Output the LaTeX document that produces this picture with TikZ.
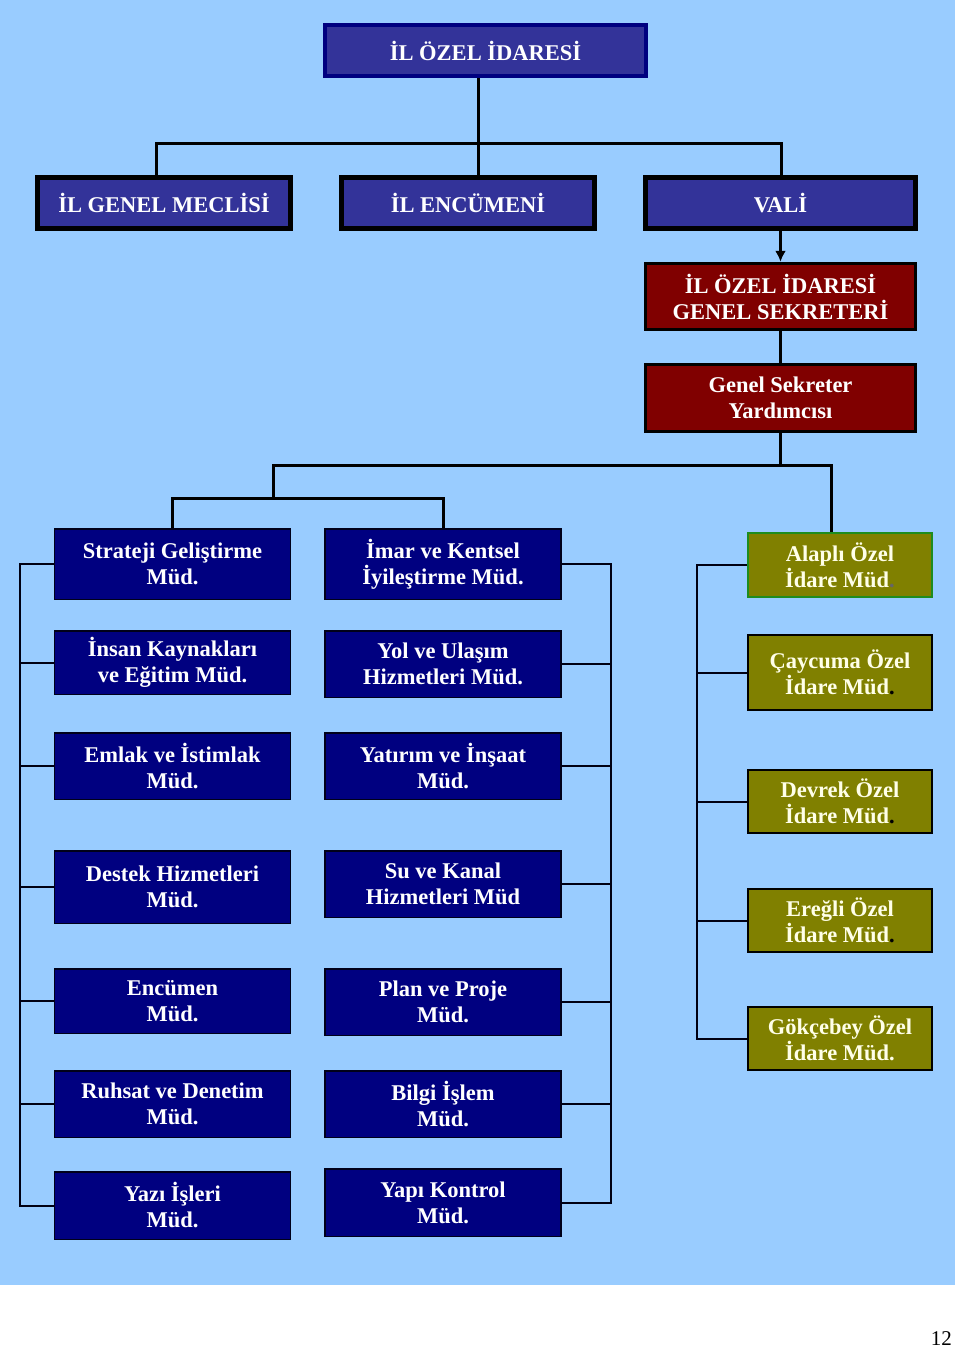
\documentclass[tikz,border=0pt]{standalone}
\usepackage{fontspec}
\setmainfont{Liberation Serif}
\usetikzlibrary{arrows.meta}

\definecolor{bgblue}{HTML}{99CCFF}
\definecolor{midblue}{HTML}{333399}
\definecolor{navyblue}{HTML}{000080}
\definecolor{darkred}{HTML}{800000}
\definecolor{olivebox}{HTML}{808000}
\definecolor{greenline}{HTML}{1E8C1E}
\definecolor{cream}{HTML}{FFFFE8}

\tikzset{
  box/.style={draw, rectangle, align=center, inner sep=0pt, text=white,
    font=\fontsize{22.5}{26}\selectfont\bfseries},
  topbox/.style={box, fill=midblue, draw=navyblue, line width=4pt,
    minimum width=321pt, minimum height=51pt},
  meclisbox/.style={box, fill=midblue, draw=black, line width=5pt, minimum height=51pt},
  redbox/.style={box, fill=darkred, draw=black, line width=3pt,
    minimum width=270pt, minimum height=66.5pt},
  mudbox/.style={box, fill=navyblue, draw=black!80!navyblue, line width=1.5pt,
    minimum width=236pt},
  ilcebox/.style={box, fill=olivebox, draw=black, line width=2pt, text=cream,
    minimum width=184pt},
  conn/.style={line width=3pt},
  bracket/.style={line width=2pt, draw=black!85!navyblue}
}

\begin{document}
\begin{tikzpicture}[x=1pt, y=-1pt]
  \useasboundingbox (0,0) rectangle (960,1353);
  \fill[bgblue] (0,0) rectangle (955,1285);

  % ust kademe
  \node[topbox] (ioi) at (485.5,50.5) {İL ÖZEL İDARESİ};
  \node[meclisbox, minimum width=253pt] (meclis) at (164,203) {İL GENEL MECLİSİ};
  \node[meclisbox, minimum width=253pt] (encumen) at (468,203) {İL ENCÜMENİ};
  \node[meclisbox, minimum width=270pt] (vali) at (780.5,203) {VALİ};
  \node[redbox] (gensek) at (780.5,296.5) {İL ÖZEL İDARESİ\\GENEL SEKRETERİ};
  \node[redbox] (gsyard) at (780.5,398) {Genel Sekreter\\Yardımcısı};

  % mudurlukler, sol sutun
  \node[mudbox, minimum height=70.5pt] (s1) at (172.5,564) {Strateji Geliştirme\\Müd.};
  \node[mudbox, minimum height=63.5pt] (s2) at (172.5,662.5) {İnsan Kaynakları\\ve Eğitim Müd.};
  \node[mudbox, minimum height=66.5pt] (s3) at (172.5,766) {Emlak ve İstimlak\\Müd.};
  \node[mudbox, minimum height=72.5pt] (s4) at (172.5,887) {Destek Hizmetleri\\Müd.};
  \node[mudbox, minimum height=64.5pt] (s5) at (172.5,1001) {Encümen\\Müd.};
  \node[mudbox, minimum height=66.5pt] (s6) at (172.5,1104) {Ruhsat ve Denetim\\Müd.};
  \node[mudbox, minimum height=67.5pt] (s7) at (172.5,1205.5) {Yazı İşleri\\Müd.};

  % orta sutun
  \node[mudbox, minimum height=70.5pt] (m1) at (443,564) {İmar ve Kentsel\\İyileştirme Müd.};
  \node[mudbox, minimum height=66.5pt] (m2) at (443,664) {Yol ve Ulaşım\\Hizmetleri Müd.};
  \node[mudbox, minimum height=66.5pt] (m3) at (443,766) {Yatırım ve İnşaat\\Müd.};
  \node[mudbox, minimum height=66.5pt] (m4) at (443,884) {Su ve Kanal\\Hizmetleri Müd};
  \node[mudbox, minimum height=66.5pt] (m5) at (443,1002) {Plan ve Proje\\Müd.};
  \node[mudbox, minimum height=66.5pt] (m6) at (443,1104) {Bilgi İşlem\\Müd.};
  \node[mudbox, minimum height=67.5pt] (m7) at (443,1202.5) {Yapı Kontrol\\Müd.};

  % ilceler
  \node[ilcebox, draw=greenline, minimum height=64pt] (o1) at (840,565) {Alaplı Özel\\İdare Müd\textcolor{black!60}{.}};
  \node[ilcebox, minimum height=75pt] (o2) at (840,672.5) {Çaycuma Özel\\İdare Müd\textcolor{black}{.}};
  \node[ilcebox, minimum height=63pt] (o3) at (840,801.5) {Devrek Özel\\İdare Müd\textcolor{black}{.}};
  \node[ilcebox, minimum height=63pt] (o4) at (840,920.5) {Ereğli Özel\\İdare Müd\textcolor{black}{.}};
  \node[ilcebox, minimum height=63pt] (o5) at (840,1038.5) {Gökçebey Özel\\İdare Müd.};

  \node[anchor=base east, inner sep=0pt, font=\fontsize{21}{21}\selectfont] (sayfa) at (952,1345) {12};

  % baglantilar
  \coordinate (t1) at (478,143);
  \coordinate (b1l) at (156,143);
  \coordinate (b1r) at (781,143);
  \draw[conn] (ioi.south -| t1) -- (encumen.north -| t1);
  \draw[conn] (b1l |- meclis.north) -- (b1l) -- (b1r) -- (b1r |- vali.north);
  \draw[line width=2.5pt, -{Latex[length=11pt,width=11pt]}] (vali.south) -- (gensek.north);
  \draw[conn] (gensek) -- (gsyard);

  \coordinate (b2l) at (273,465);
  \coordinate (b2r) at (831,465);
  \coordinate (b3) at (273,498);
  \draw[conn] (gsyard.south) -- (gsyard.south |- b2l);
  \draw[conn] (b3) -- (b2l) -- (b2r) -- (b2r |- o1.north);
  \draw[conn] (s1.north) -- (s1.north |- b3) -- (m1.north |- b3) -- (m1.north);

  % kollar
  \coordinate (lbar) at (20,0);
  \coordinate (mbar) at (611,0);
  \coordinate (rbar) at (697,0);
  \draw[bracket] (s1.west) -- (s1.west -| lbar) -- (s7.west -| lbar) -- (s7.west);
  \foreach \i in {2,...,6} \draw[bracket] (s\i.west) -- (s\i.west -| lbar);
  \draw[bracket] (m1.east) -- (m1.east -| mbar) -- (m7.east -| mbar) -- (m7.east);
  \foreach \i in {2,...,6} \draw[bracket] (m\i.east) -- (m\i.east -| mbar);
  \draw[bracket] (o1.west) -- (o1.west -| rbar) -- (o5.west -| rbar) -- (o5.west);
  \foreach \i in {2,3,4} \draw[bracket] (o\i.west) -- (o\i.west -| rbar);
\end{tikzpicture}
\end{document}
